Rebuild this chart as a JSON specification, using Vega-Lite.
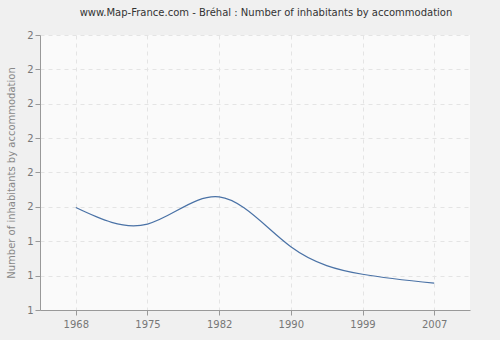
{
  "$schema": "https://vega.github.io/schema/vega-lite/v6.json",
  "autosize": {"type": "none"},
  "width": 430,
  "height": 275,
  "padding": {"left": 40, "top": 35, "right": 30, "bottom": 30},
  "background": "#f0f0f0",
  "title": {
    "text": "www.Map-France.com - Bréhal : Number of inhabitants by accommodation",
    "font": "DejaVu Sans",
    "fontSize": 10,
    "fontWeight": "normal",
    "color": "#333333",
    "anchor": "middle",
    "dx": 11,
    "offset": 12
  },
  "config": {
    "view": {"fill": "#fafafa", "stroke": null},
    "axis": {
      "labelFont": "DejaVu Sans",
      "labelFontSize": 10,
      "labelColor": "#777777",
      "titleFont": "DejaVu Sans",
      "titleFontSize": 10,
      "titleFontWeight": "normal",
      "titleColor": "#888888",
      "domainColor": "#999999",
      "tickColor": "#999999",
      "gridColor": "#e4e4e4",
      "gridDash": [4, 4],
      "tickSize": 5
    }
  },
  "data": {
    "values": [
      {"year": "1968", "value": 1.498},
      {"year": "1975", "value": 1.450},
      {"year": "1982", "value": 1.529},
      {"year": "1990", "value": 1.384},
      {"year": "1999", "value": 1.304},
      {"year": "2007", "value": 1.278}
    ]
  },
  "mark": {"type": "line", "interpolate": "natural", "color": "#4a72a6", "strokeWidth": 1.2},
  "encoding": {
    "x": {
      "field": "year",
      "type": "ordinal",
      "scale": {"type": "point", "padding": 0.5},
      "axis": {"title": null, "labelAngle": 0, "grid": true, "labelPadding": 4}
    },
    "y": {
      "field": "value",
      "type": "quantitative",
      "scale": {"domain": [1.2, 2.0], "nice": false, "zero": false},
      "axis": {
        "title": "Number of inhabitants by accommodation",
        "values": [1.2, 1.3, 1.4, 1.5, 1.6, 1.7, 1.8, 1.9, 2.0],
        "format": ".0f",
        "grid": true,
        "titlePadding": 10
      }
    }
  }
}
